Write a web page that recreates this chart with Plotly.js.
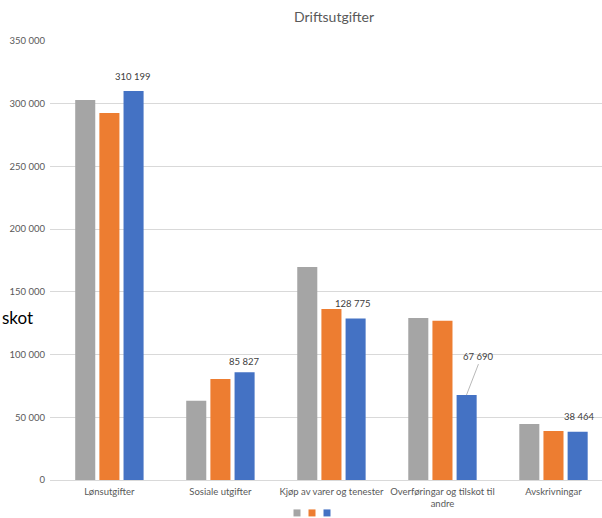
<!DOCTYPE html>
<html>
<head>
<meta charset="utf-8">
<script src="https://cdn.plot.ly/plotly-3.0.1.min.js"></script>
<style>html,body{margin:0;padding:0;background:#fff;}#chart{width:602px;height:518px;}</style>
</head>
<body>
<div id="chart"></div>
<script>
const categories = ["Lønsutgifter", "Sosiale utgifter", "Kjøp av varer og tenester", "Overføringar og tilskot til<br>andre", "Avskrivningar"];
const seriesGray = [303000, 63200, 169800, 129200, 44600];
const seriesOrange = [292600, 80500, 136300, 127000, 39000];
const seriesBlue = [310199, 85827, 128775, 67690, 38464];
const blueLabels = ["310 199", "85 827", "128 775", "67 690", "38 464"];
const yTicks = [0, 50000, 100000, 150000, 200000, 250000, 300000, 350000];
const yTickLabels = ["0", "50 000", "100 000", "150 000", "200 000", "250 000", "300 000", "350 000"];
const colors = ["#A5A5A5", "#ED7D31", "#4472C4"];

const font = "Lato, 'Noto Sans', sans-serif";
const seriesAll = [seriesGray, seriesOrange, seriesBlue];
const traces = seriesAll.map((s, k) => ({
  type: "bar", x: categories, y: s, name: "", marker: {color: colors[k]}, showlegend: false
}));
// legend keys (small squares, no text)
const legendIds = ["legend", "legend2", "legend3"];
colors.forEach((c, k) => traces.push({
  type: "scatter", mode: "markers", x: [null], y: [null], name: "",
  marker: {symbol: "square", size: 7, color: c}, showlegend: true, legend: legendIds[k]
}));

const labelOffsets = [
  {xs: 24, ys: 7, arrow: false},
  {xs: 24, ys: 3, arrow: false},
  {xs: 22, ys: 7, arrow: false},
  {xs: 24, ys: 0, arrow: true},
  {xs: 26, ys: 8, arrow: false}
];
const annotations = categories.map((c, i) => {
  const o = labelOffsets[i];
  const a = {
    x: c, y: seriesBlue[i], xref: "x", yref: "y",
    text: blueLabels[i], xshift: o.xs,
    font: {family: font, size: 9.5, color: "#404040"},
    showarrow: false, yshift: o.ys, yanchor: "bottom"
  };
  if (o.arrow) {
    a.showarrow = true; a.arrowhead = 0; a.arrowwidth = 0.8; a.arrowcolor = "#A6A6A6";
    a.ax = 12; a.ay = -31; a.yshift = 0; a.standoff = 0; a.startstandoff = 0;
    a.yanchor = "bottom";
  }
  return a;
});
annotations.push({
  xref: "paper", yref: "paper", x: 310/602, y: 1, yshift: 25,
  text: "Driftsutgifter", showarrow: false, xanchor: "center", yanchor: "middle",
  font: {family: font, size: 14, color: "#595959"}
});
annotations.push({
  xref: "paper", yref: "paper", x: -50/552, y: (480-318)/439,
  text: "skot", showarrow: false, xanchor: "left", yanchor: "middle",
  font: {family: font, size: 17, color: "#000000"}
});

const legendCenters = [297, 312, 327];
const legendBase = {orientation: "h", y: -0.075, yanchor: "middle", xanchor: "left",
  font: {size: 1}, itemwidth: 30, bgcolor: "rgba(0,0,0,0)", borderwidth: 0};

const layout = {
  width: 602, height: 518,
  margin: {l: 50, r: 0, t: 41, b: 38, autoexpand: false},
  paper_bgcolor: "#ffffff", plot_bgcolor: "#ffffff",
  barmode: "group", bargap: 0.347, bargroupgap: 0.17,
  showlegend: true,
  xaxis: {range: [-0.535, 4.437], showgrid: false, zeroline: false, showline: false, ticks: "",
          ticklabelstandoff: 4,
          tickfont: {family: font, size: 9.5, color: "#595959"}, automargin: false, fixedrange: true},
  yaxis: {range: [0, 350000], tickvals: yTicks, ticktext: yTickLabels, showgrid: true,
          gridcolor: "#D9D9D9", gridwidth: 1, zeroline: true, zerolinecolor: "#D9D9D9", zerolinewidth: 1,
          showline: false, ticks: "", ticklabelstandoff: 4,
          tickfont: {family: font, size: 9.5, color: "#595959"}, automargin: false, fixedrange: true},
  annotations: annotations,
  font: {family: font}
};
legendIds.forEach((id, k) => {
  layout[id] = Object.assign({}, legendBase, {x: (legendCenters[k] - 20 - 50) / 552});
});
Plotly.newPlot("chart", traces, layout, {displayModeBar: false, staticPlot: true});
</script>
</body>
</html>
